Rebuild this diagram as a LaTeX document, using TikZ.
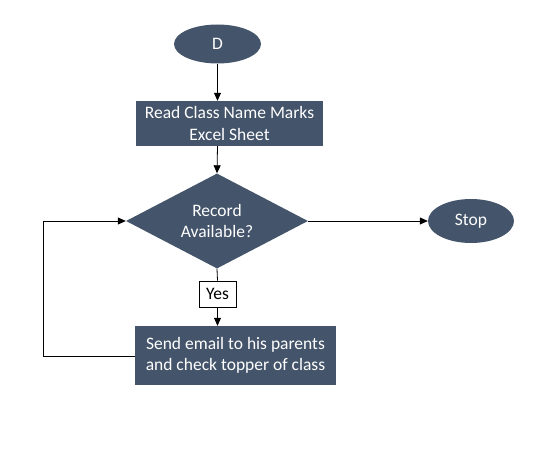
\documentclass[tikz,border=0pt]{standalone}
\usepackage{fontspec}
\setmainfont{Carlito}
\usetikzlibrary{shapes.geometric,arrows.meta}
\definecolor{slate}{HTML}{44546A}
\begin{document}
\begin{tikzpicture}[x=1pt,y=-1pt,
  every node/.style={font=\fontsize{17.5}{21.5}\selectfont},
  term/.style={ellipse,fill=slate,text=white,inner sep=0pt},
  procbox/.style={rectangle,fill=slate,text=white,inner sep=0pt,align=center},
  decide/.style={diamond,fill=slate,text=white,inner sep=0pt,align=center},
  lbl/.style={rectangle,draw=black,fill=white,line width=0.8pt,inner sep=0pt,minimum width=37pt,minimum height=26pt},
  conn/.style={line width=0.8pt,-{Triangle[length=8pt,width=7pt]}}]
\useasboundingbox (0,0) rectangle (542,460);
\node[term,minimum width=87pt,minimum height=39pt] (d) at (217.5,44) {D};
\node[procbox,minimum width=187pt,minimum height=45pt] (read) at (229.5,123.5) {Read Class Name Marks\\Excel Sheet};
\node[decide,minimum width=182pt,minimum height=95pt,aspect=1.9] (rec) at (217,221) {Record\\Available?};
\node[term,minimum width=86pt,minimum height=44pt] (stop) at (471,221) {Stop};
\node[procbox,minimum width=201pt,minimum height=59pt] (send) at (235.5,355.5) {Send email to his parents\\and check topper of class};
\node[lbl] (yes) at (217.5,294) {Yes};
\coordinate (c1) at (43,356);
\coordinate (c2) at (43,221);
\draw[conn] (d.south) -- (d.south |- read.north);
\draw[conn] (read.south -| d.south) -- (rec.north);
\draw[line width=0.8pt] (rec.south) -- (yes.north);
\draw[conn] (yes.south) -- (yes.south |- send.north);
\draw[conn] (rec.east) -- (stop.west);
\draw[conn] (send.west |- c1) -- (c1) -- (c2) -- (rec.west);
\end{tikzpicture}
\end{document}
